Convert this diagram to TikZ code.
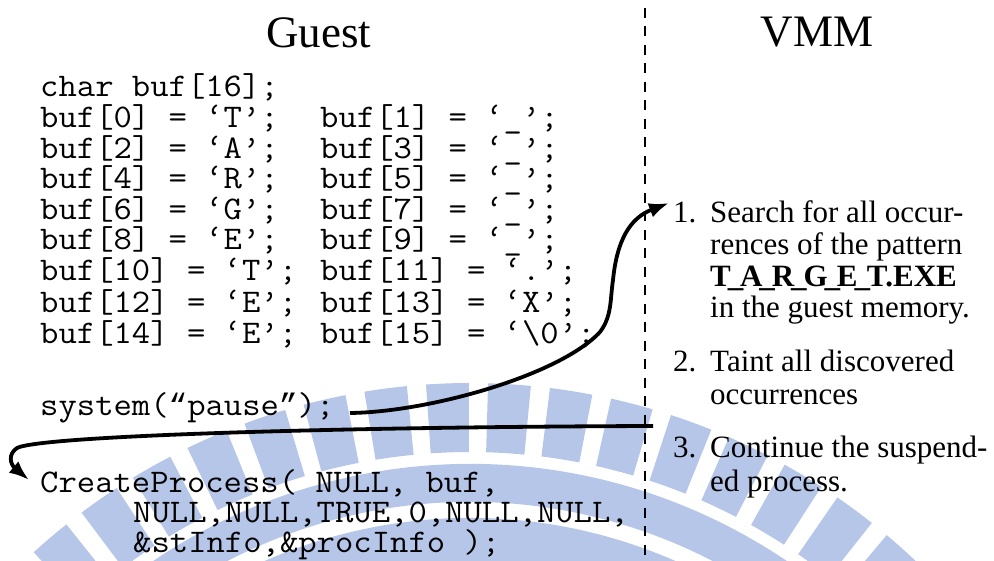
\documentclass[tikz,border=0pt]{standalone}
\usepackage{fontspec}
\setmainfont{Liberation Serif}
\setmonofont[FakeStretch=1.08]{Latin Modern Mono}
\newfontfamily\quotefont{Liberation Mono}
\usetikzlibrary{arrows.meta}
\definecolor{emblem}{RGB}{182,198,233}
\newcommand{\tul}{\kern-0.1em\_\kern-0.1em}
\newcommand{\openq}{{\fontsize{31}{31}\quotefont “}}
\newcommand{\closeq}{{\fontsize{31}{31}\quotefont ”}}
\begin{document}
\begin{tikzpicture}[x=1pt,y=-1pt,
  code/.style={font=\fontsize{33}{33}\selectfont\ttfamily, anchor=base west, inner sep=0pt},
  head/.style={font=\fontsize{45}{45}\selectfont, anchor=base, inner sep=0pt},
  item/.style={font=\fontsize{31}{31}\selectfont, anchor=base west, inner sep=0pt},
  arr/.style={line width=3.8pt, -{Latex[length=20pt,width=15pt]}},
  divider/.style={line width=2.8pt, dash pattern=on 10pt off 8.5pt},
]
\useasboundingbox (0,0) rectangle (994,561);

% faint emblem in the background: toothed ring and two bands
\begin{scope}[shift={(470,1030)}]
  \foreach \a in {-15,-20.5,...,-165} {
    \fill[emblem] ({\a-1.9}:578) -- ({\a-1.9}:647)
      arc[start angle={\a-1.9}, end angle={\a+1.9}, radius=647]
      -- ({\a+1.9}:578)
      arc[start angle={\a+1.9}, end angle={\a-1.9}, radius=578] -- cycle;
  }
  \fill[emblem] (-15:566) arc[start angle=-15, end angle=-165, radius=566]
    -- (-165:528) arc[start angle=-165, end angle=-15, radius=528] -- cycle;
  \fill[emblem] (-15:512) arc[start angle=-15, end angle=-165, radius=512]
    -- (-165:400) arc[start angle=-165, end angle=-15, radius=400] -- cycle;
\end{scope}

% Guest / VMM divider
\coordinate (divTop) at (645,8);
\coordinate (divBot) at (645,561);
\draw[divider] (divTop) -- (divBot);

% column headings
\node[head] (guest) at (319,48) {Guest};
\node[head] (vmm) at (817,47) {VMM};

% guest program
\node[code] (decl) at (40,97) {char buf[16];};
\node[code] (a0)  at (40,128)   {buf[0] = ‘T’;};
\node[code] (b0)  at (320,128)  {buf[1] = ‘\_’;};
\node[code] (a1)  at (40,158.5) {buf[2] = ‘A’;};
\node[code] (b1)  at (320,158.5){buf[3] = ‘\_’;};
\node[code] (a2)  at (40,189)   {buf[4] = ‘R’;};
\node[code] (b2)  at (320,189)  {buf[5] = ‘\_’;};
\node[code] (a3)  at (40,219.5) {buf[6] = ‘G’;};
\node[code] (b3)  at (320,219.5){buf[7] = ‘\_’;};
\node[code] (a4)  at (40,250)   {buf[8] = ‘E’;};
\node[code] (b4)  at (320,250)  {buf[9] = ‘\_’;};
\node[code] (a5)  at (40,281)   {buf[10] = ‘T’;};
\node[code] (b5)  at (320,281)  {buf[11] = ‘.’;};
\node[code] (a6)  at (40,313)   {buf[12] = ‘E’;};
\node[code] (b6)  at (320,313)  {buf[13] = ‘X’;};
\node[code] (a7)  at (40,344)   {buf[14] = ‘E’;};
\node[code] (b7)  at (320,344)  {buf[15] = ‘\textbackslash 0’;};

\node[code] (pause) at (40,416) {system(\openq pause\closeq);};
\node[code] (create) at (40,492) {CreateProcess( NULL, buf,};
\node[code] (createB) at (133,522) {NULL,NULL,TRUE,0,NULL,NULL,};
\node[code] (createC) at (133,552) {\&stInfo,\&procInfo );};

% VMM steps
\node[item] (n1) at (673,223) {1.};
\node[item] (s1a) at (710,223) {Search for all occur-};
\node[item] (s1b) at (710,255) {rences of the pattern};
\node[item] (s1c) at (710,287) {\bfseries T\tul A\tul R\tul G\tul E\tul T.EXE};
\node[item] (s1d) at (710,318) {in the guest memory.};
\node[item] (n2) at (673,372) {2.};
\node[item] (s2a) at (710,372) {Taint all discovered};
\node[item] (s2b) at (710,405) {occurrences};
\node[item] (n3) at (673,457) {3.};
\node[item] (s3a) at (710,457) {Continue the suspend-};
\node[item] (s3b) at (710,491) {ed process.};

% control transfers
\coordinate (pauseOut) at (350,413);
\coordinate (searchIn) at (669,203);
\draw[arr] (pauseOut) .. controls (430,412) and (560,375) .. (600,332)
  .. controls (612,316) and (610,300) .. (613,280)
  .. controls (617,240) and (630,218) .. (searchIn);

\coordinate (resumeOut) at (653,426);
\coordinate (createIn) at (29,480);
\draw[arr] (resumeOut) .. controls (330,427) and (40,436) .. (17,448)
  .. controls (8,454) and (10,464) .. (createIn);
\end{tikzpicture}
\end{document}
